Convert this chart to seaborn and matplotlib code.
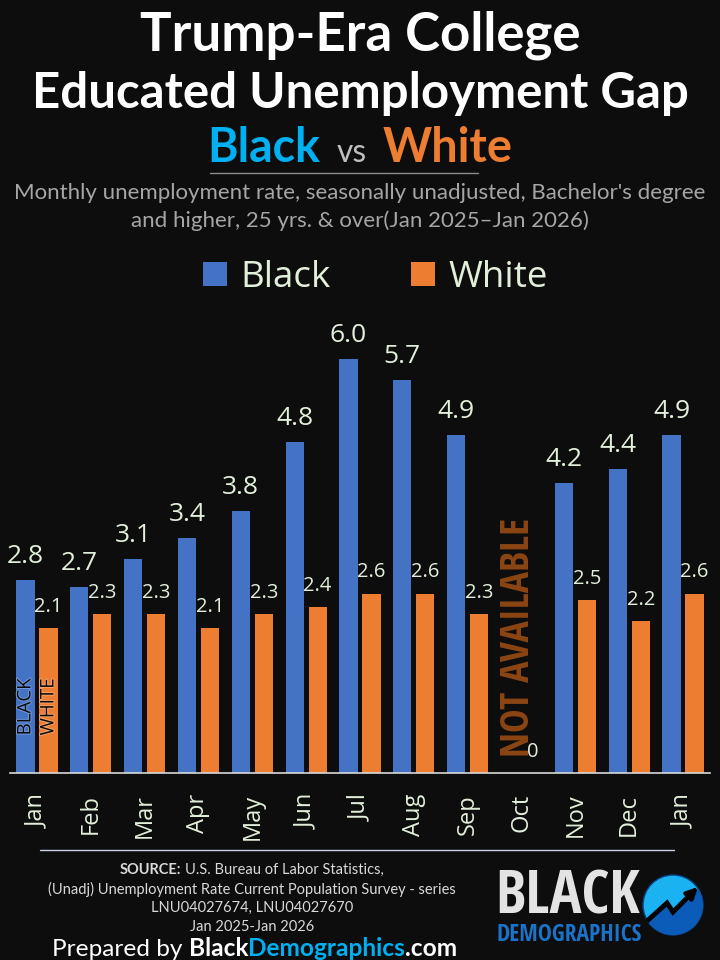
import os
import numpy as np
import pandas as pd
import matplotlib
matplotlib.use("Agg")
import matplotlib.pyplot as plt
import seaborn as sns
from matplotlib import font_manager as fm
from matplotlib.font_manager import FontProperties
from matplotlib.patches import Patch, Circle, Polygon
import matplotlib.patheffects as pe

# ---------------- data ----------------
periods = ["2025-01", "2025-02", "2025-03", "2025-04", "2025-05", "2025-06", "2025-07",
           "2025-08", "2025-09", "2025-10", "2025-11", "2025-12", "2026-01"]
months = ["Jan", "Feb", "Mar", "Apr", "May", "Jun", "Jul", "Aug", "Sep", "Oct", "Nov", "Dec", "Jan"]
black_rate = [2.8, 2.7, 3.1, 3.4, 3.8, 4.8, 6.0, 5.7, 4.9, np.nan, 4.2, 4.4, 4.9]
white_rate = [2.1, 2.3, 2.3, 2.1, 2.3, 2.4, 2.6, 2.6, 2.3, 0.0, 2.5, 2.2, 2.6]
series = ["Black", "White"]
colors = ["#4472C4", "#ED7D31"]

df = pd.DataFrame({
    "period": periods * 2,
    "race": ["Black"] * len(periods) + ["White"] * len(periods),
    "rate": black_rate + white_rate,
}).dropna()

# ---------------- style ----------------
bg = "#0d0d0d"
light = "#e2efda"
sns.set_style("dark", {"axes.facecolor": "none", "figure.facecolor": bg})
plt.rcParams["font.family"] = ["Open Sans", "DejaVu Sans"]


def condensed_bold():
    prefs = ["liberationsansnarrow-bold.", "opensans-condbold", "opensans_condensed-bold",
             "robotocondensed-bold", "dejavusanscondensed-bold."]
    files = [f.fname for f in fm.fontManager.ttflist]
    for p in prefs:
        for fn in files:
            if os.path.basename(fn).lower().replace(" ", "").startswith(p):
                return FontProperties(fname=fn)
    for fn in files:
        b = os.path.basename(fn).lower()
        if ("narrow" in b or "condensed" in b) and "bold" in b and "italic" not in b \
                and "oblique" not in b:
            return FontProperties(fname=fn)
    return FontProperties(family="DejaVu Sans", weight="bold")


CB = condensed_bold()

fig = plt.figure(figsize=(7.2, 9.6), dpi=100, facecolor=bg)
ov = fig.add_axes([0, 0, 1, 1], zorder=0)
ov.set_xlim(0, 720)
ov.set_ylim(960, 0)
ov.axis("off")
ov.set_facecolor("none")

ax = fig.add_axes([10 / 720, 187 / 960, 700 / 720, 443 / 960], zorder=1)
ax.set_facecolor("none")

sns.barplot(data=df, x="period", y="rate", hue="race", order=periods, hue_order=series,
            palette=dict(zip(series, colors)), width=0.855, gap=0.21, errorbar=None,
            legend=False, saturation=1, linewidth=0, edgecolor="none", ax=ax)

ax.set_ylim(0, 6.42)
ax.set_xlim(-0.5, len(periods) - 0.5)
ax.set_xticks(range(len(periods)))
ax.set_xticklabels(months, rotation=90, fontsize=17, color=light)
ax.tick_params(axis="x", length=0, pad=15)
ax.set_yticks([])
ax.set_xlabel("")
ax.set_ylabel("")
ax.grid(False)
for s in ["left", "right", "top"]:
    ax.spines[s].set_visible(False)
ax.spines["bottom"].set_color("#d9d9d9")
ax.spines["bottom"].set_linewidth(1.2)

for cont, fs in zip(ax.containers, [19, 14.5]):
    labs = [("0" if b.get_height() == 0 else f"{b.get_height():.1f}") for b in cont]
    ax.bar_label(cont, labels=labs, padding=8, fontsize=fs, color=light)

# series names inside the first pair of bars
for cont, name, glow in zip(ax.containers, ["BLACK", "WHITE"], ["#6f95d8", "#f4a265"]):
    b = cont[0]
    ax.text(b.get_x() + b.get_width() / 2, 0.96, name, rotation=90, ha="center", va="center",
            fontsize=13.5, color="#0a0a0a",
            path_effects=[pe.withStroke(linewidth=1.5, foreground=glow)])

R = fig.canvas.get_renderer()


def wid(t):
    return t.get_window_extent(R).width


def hei(t):
    return t.get_window_extent(R).height


def fit_w(t, w):
    t.set_fontsize(t.get_fontsize() * w / wid(t))


na = ax.text(8.95, 1.97, "NOT AVAILABLE", rotation=90, ha="center", va="center",
             fontproperties=CB, color="#8B4513")
na.set_fontsize(23)
na.set_fontsize(na.get_fontsize() * 240 / hei(na))

# legend
handles = [Patch(facecolor=c, edgecolor="none", label=s) for s, c in zip(series, colors)]
fig.legend(handles=handles, loc="center", bbox_to_anchor=(375.5 / 720, 1 - 278 / 960), ncol=2,
           frameon=False, prop={"family": "Open Sans", "size": 26.5}, labelcolor=light,
           handlelength=0.65, handleheight=0.65, handletextpad=0.35, columnspacing=2.2)

# ---------------- titles ----------------
TF = ["Lato", "DejaVu Sans"]
t1 = ov.text(360, 50, "Trump-Era College", ha="center", va="baseline", fontweight="bold",
             color="white", family=TF, fontsize=38)
fit_w(t1, 441)
t2 = ov.text(360, 108, "Educated Unemployment Gap", ha="center", va="baseline", fontweight="bold",
             color="white", family=TF, fontsize=38)
fit_w(t2, 657)

tb = ov.text(207, 162, "Black", ha="left", va="baseline", fontweight="bold", color="#00B0F0",
             family=TF, fontsize=30)
fit_w(tb, 113)
tv = ov.text(337, 162, "vs", ha="left", va="baseline", color="#bfbfbf", family=TF, fontsize=20)
fit_w(tv, 30)
tw = ov.text(383, 162, "White", ha="left", va="baseline", fontweight="bold", color="#ED7D31",
             family=TF, fontsize=30)
fit_w(tw, 130)

ov.plot([210, 478], [173, 173], color="#8c8c8c", lw=1)

s1 = ov.text(360, 199, "Monthly unemployment rate, seasonally unadjusted, Bachelor's degree",
             ha="center", va="baseline", color="#a6a6a6", family=TF, fontsize=14)
fit_w(s1, 691)
s2 = ov.text(360, 227, "and higher, 25 yrs. & over(Jan 2025\u2013Jan 2026)", ha="center",
             va="baseline", color="#a6a6a6", family=TF, fontsize=s1.get_fontsize())

# ---------------- footer ----------------
ov.plot([40, 674], [850, 850], color="#c9d3e8", lw=1)


def seq_line(parts, cx, y, size, gaps):
    ts = [ov.text(0, y, s, fontsize=size, ha="left", va="baseline", family=TF, **p) for s, p in parts]
    ws = [wid(t) for t in ts]
    total = sum(ws) + sum(gaps)
    x = cx - total / 2
    for i, (t, w) in enumerate(zip(ts, ws)):
        t.set_x(x)
        x += w + (gaps[i] if i < len(gaps) else 0)
    return ts, total


src_color = "#d9d9d9"
probe = ov.text(0, 0, "(Unadj) Unemployment Rate Current Population Survey - series", family=TF,
                fontsize=10)
fit_w(probe, 407)
sfs = probe.get_fontsize()
probe.remove()

seq_line([("SOURCE:", {"fontweight": "bold", "color": src_color}),
          ("U.S. Bureau of Labor Statistics,", {"color": src_color})], 252, 874, sfs, [4])
ov.text(252, 894, "(Unadj) Unemployment Rate Current Population Survey - series", ha="center",
        va="baseline", family=TF, fontsize=sfs, color=src_color)
ov.text(252, 912, "LNU04027674, LNU04027670", ha="center", va="baseline", family=TF,
        fontsize=sfs, color=src_color)
ov.text(252, 931, "Jan 2025-Jan 2026", ha="center", va="baseline", family=TF, fontsize=sfs,
        color=src_color)

prep_parts = [("Prepared by", {"color": "white"}),
              ("Black", {"color": "white", "fontweight": "bold"}),
              ("Demographics", {"color": "#00B0F0", "fontweight": "bold"}),
              (".com", {"color": "white", "fontweight": "bold"})]
pp, tot = seq_line(prep_parts, 255, 956, 16, [6, 0, 0])
for t in pp:
    t.remove()
seq_line(prep_parts, 255, 956, 16 * 407 / tot, [6, 0, 0])

# logo
lb = ov.text(495, 914, "BLACK", ha="left", va="baseline", fontproperties=CB, color="#e3e3e3")
lb.set_fontsize(30)
fit_w(lb, 145)
ld = ov.text(497, 941, "DEMOGRAPHICS", ha="left", va="baseline", fontproperties=CB.copy(),
             color="#1a73c8")
ld.set_fontsize(14)
fit_w(ld, 145)

circ = Circle((673, 905), 30, facecolor="#1ab2f0", edgecolor="#0a3f80", lw=1)
ov.add_patch(circ)
lower = Polygon([(635, 928), (667, 905), (673, 914), (697, 890), (712, 878), (712, 945), (635, 945)],
                closed=True, facecolor="#0b5cb8", edgecolor="none")
ov.add_patch(lower)
lower.set_clip_path(circ)
ov.plot([647, 667, 673, 692], [921, 903, 912, 893], color="black", lw=3.5,
        solid_joinstyle="miter", solid_capstyle="butt")
ov.annotate("", xy=(700, 885), xytext=(689, 896),
            arrowprops=dict(arrowstyle="-|>", color="black", lw=3, mutation_scale=16))

fig.savefig("out.png", dpi=100, facecolor=bg)
